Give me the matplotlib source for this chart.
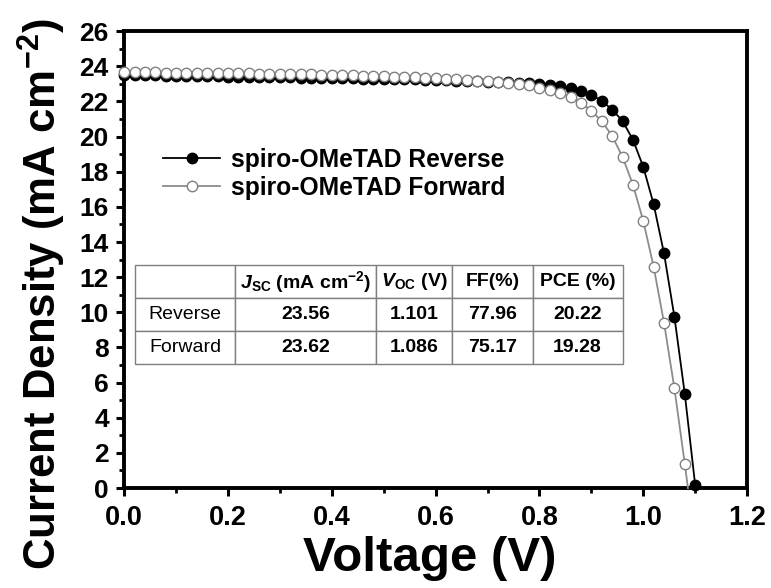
import matplotlib
matplotlib.use("Agg")
import matplotlib.pyplot as plt
from matplotlib.ticker import MultipleLocator

plt.rcParams['font.family'] = ['Liberation Sans', 'DejaVu Sans']
plt.rcParams['mathtext.fontset'] = 'custom'
plt.rcParams['mathtext.rm'] = 'Liberation Sans'
plt.rcParams['mathtext.bf'] = 'Liberation Sans:bold'
plt.rcParams['mathtext.it'] = 'Liberation Sans:italic'
plt.rcParams['mathtext.bfit'] = 'Liberation Sans:italic:bold'

# ---------------- data ----------------
voltage_reverse = [0.00, 0.02, 0.04, 0.06, 0.08, 0.10, 0.12, 0.14, 0.16, 0.18,
                   0.20, 0.22, 0.24, 0.26, 0.28, 0.30, 0.32, 0.34, 0.36, 0.38,
                   0.40, 0.42, 0.44, 0.46, 0.48, 0.50, 0.52, 0.54, 0.56, 0.58,
                   0.60, 0.62, 0.64, 0.66, 0.68, 0.70, 0.72, 0.74, 0.76, 0.78,
                   0.80, 0.82, 0.84, 0.86, 0.88, 0.90, 0.92, 0.94, 0.96, 0.98,
                   1.00, 1.02, 1.04, 1.06, 1.08, 1.10]
current_reverse = [23.50, 23.49, 23.48, 23.48, 23.47, 23.46, 23.46, 23.45, 23.44, 23.43,
                   23.42, 23.42, 23.41, 23.40, 23.39, 23.38, 23.37, 23.36, 23.35, 23.34,
                   23.33, 23.32, 23.31, 23.30, 23.29, 23.28, 23.27, 23.26, 23.25, 23.24,
                   23.22, 23.21, 23.19, 23.17, 23.15, 23.13, 23.11, 23.09, 23.07, 23.04,
                   23.00, 22.96, 22.88, 22.77, 22.60, 22.39, 22.03, 21.54, 20.89, 19.83,
                   18.28, 16.15, 13.35, 9.74, 5.35, 0.17]

voltage_forward = [0.00, 0.02, 0.04, 0.06, 0.08, 0.10, 0.12, 0.14, 0.16, 0.18,
                   0.20, 0.22, 0.24, 0.26, 0.28, 0.30, 0.32, 0.34, 0.36, 0.38,
                   0.40, 0.42, 0.44, 0.46, 0.48, 0.50, 0.52, 0.54, 0.56, 0.58,
                   0.60, 0.62, 0.64, 0.66, 0.68, 0.70, 0.72, 0.74, 0.76, 0.78,
                   0.80, 0.82, 0.84, 0.86, 0.88, 0.90, 0.92, 0.94, 0.96, 0.98,
                   1.00, 1.02, 1.04, 1.06, 1.08, 1.086]
current_forward = [23.66, 23.66, 23.65, 23.65, 23.64, 23.64, 23.63, 23.63, 23.62, 23.62,
                   23.61, 23.60, 23.60, 23.59, 23.58, 23.57, 23.56, 23.55, 23.54, 23.53,
                   23.52, 23.50, 23.49, 23.47, 23.46, 23.44, 23.42, 23.40, 23.38, 23.36,
                   23.33, 23.30, 23.27, 23.23, 23.19, 23.15, 23.11, 23.06, 23.01, 22.92,
                   22.79, 22.68, 22.49, 22.26, 21.94, 21.46, 20.88, 20.04, 18.85, 17.27,
                   15.20, 12.59, 9.40, 5.67, 1.37, 0.00]

series_labels = ["spiro-OMeTAD Reverse", "spiro-OMeTAD Forward"]

table_header = ["", r"$\mathbfit{J}_{\mathbf{SC}}$ (mA cm$^{\mathbf{-2}}$)",
                r"$\mathbfit{V}_{\mathbf{OC}}$ (V)", "FF(%)", "PCE (%)"]
table_rows = [["Reverse", "23.56", "1.101", "77.96", "20.22"],
              ["Forward", "23.62", "1.086", "75.17", "19.28"]]

x_ticks = [0.0, 0.2, 0.4, 0.6, 0.8, 1.0, 1.2]
y_ticks = [0, 2, 4, 6, 8, 10, 12, 14, 16, 18, 20, 22, 24, 26]

# ---------------- figure ----------------
fig = plt.figure(figsize=(7.71, 5.88), dpi=100)
ax = fig.add_axes([0.161, 0.170, 0.808, 0.777])

ax.plot(voltage_reverse, current_reverse, '-o', color='black', lw=1.3,
        ms=7.5, mfc='black', mec='black', clip_on=False, zorder=3,
        label=series_labels[0])
ax.plot(voltage_forward, current_forward, '-o', color='#8c8c8c', lw=1.3,
        ms=7.5, mfc='white', mec='#808080', mew=1.0, clip_on=False, zorder=4,
        markevery=list(range(len(voltage_forward) - 1)),
        label=series_labels[1])

ax.set_xlim(0, 1.2)
ax.set_ylim(0, 26)
ax.set_xticks(x_ticks)
ax.set_yticks(y_ticks)
ax.set_xticklabels([f"{v:.1f}" for v in x_ticks])
ax.set_yticklabels([str(v) for v in y_ticks])
ax.xaxis.set_minor_locator(MultipleLocator(0.1))
ax.yaxis.set_minor_locator(MultipleLocator(1))

for s in ax.spines.values():
    s.set_linewidth(2.8)
ax.tick_params(which='major', direction='out', length=6, width=2.2)
ax.tick_params(axis='x', which='major', labelsize=19.5, pad=6)
ax.tick_params(axis='y', which='major', labelsize=19, pad=5)
ax.tick_params(which='minor', direction='out', length=3.5, width=2.0)
ax.tick_params(top=False, right=False, which='both')
for lab in ax.get_xticklabels() + ax.get_yticklabels():
    lab.set_fontweight('bold')

ax.set_xlabel("Voltage (V)", fontsize=35.5, fontweight='bold', va='top')
ax.xaxis.set_label_coords(0.49, -0.105)
ax.set_ylabel(r"Current Density (mA cm$^{\mathbf{-2}}$)", fontsize=31.5,
              fontweight='bold')
ax.yaxis.set_label_coords(-0.09, 0.425)

leg = ax.legend(loc='upper left', bbox_to_anchor=(0.063, 0.745), frameon=False,
                prop={'weight': 'bold', 'size': 17.7},
                handlelength=2.3, handletextpad=0.45, labelspacing=0.17,
                borderpad=0, borderaxespad=0, numpoints=1)

tbl = ax.table(cellText=table_rows, colLabels=table_header,
               bbox=[0.0177, 0.2713, 0.7826, 0.2166], cellLoc='center',
               colWidths=[100, 140, 76.6, 80, 90])
tbl.auto_set_font_size(False)
tbl.set_fontsize(14)
for (r, c), cell in tbl.get_celld().items():
    cell.set_edgecolor('#7f7f7f')
    cell.set_linewidth(1.0)
    cell.set_facecolor('white')
    txt = cell.get_text()
    if r == 0 or c > 0:
        txt.set_fontweight('bold')
tbl.set_zorder(5)

fig.savefig("out.png", dpi=100)
